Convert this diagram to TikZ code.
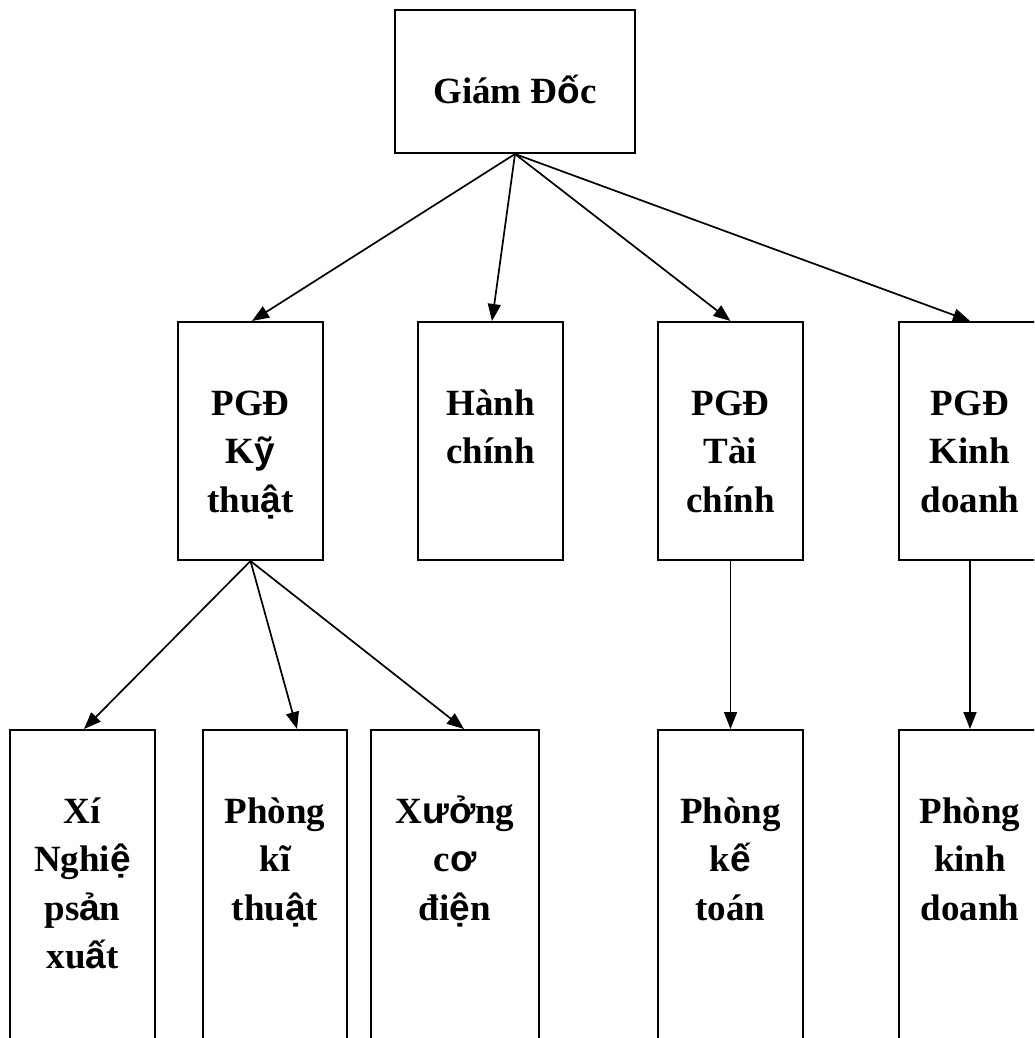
\documentclass[tikz,border=0pt]{standalone}
\usepackage{fontspec}
\setmainfont{Liberation Serif}
\newfontfamily\altsans{Liberation Sans}
\usetikzlibrary{arrows.meta}
% glyphs set in the sans fallback face
\newcommand\sg[1]{{\altsans #1}}
% centred, top-aligned block of lines
\newcommand\lines[1]{\parbox[t]{220pt}{\centering #1}}

\begin{document}
\begin{tikzpicture}[x=1pt,y=-1pt,
  box/.style={draw, line width=2pt, rectangle, inner sep=0pt},
  txt/.style={anchor=base, yshift=-94pt, inner sep=0pt,
    font=\bfseries\fontsize{37}{48.5}\selectfont},
  arr/.style={line width=1.7pt, -{Triangle[length=17pt,width=13pt]}}]

\useasboundingbox (0,0) rectangle (1034,1038);
\clip (0,0) rectangle (1034,1038);

% top
\node[box, minimum width=240pt, minimum height=143pt] (gd) at (515,81.5) {};

% second row
\node[box, minimum width=145pt, minimum height=238pt] (kt) at (250.5,441) {};
\node[box, minimum width=145pt, minimum height=238pt] (hc) at (490.5,441) {};
\node[box, minimum width=145pt, minimum height=238pt] (tc) at (730.5,441) {};
\node[box, minimum width=142pt, minimum height=238pt] (kd) at (970,441) {};

% third row
\node[box, minimum width=145pt, minimum height=340pt] (xn)  at (82.5,900) {};
\node[box, minimum width=144pt, minimum height=340pt] (pkt) at (275,900) {};
\node[box, minimum width=168pt, minimum height=340pt] (xcd) at (455,900) {};
\node[box, minimum width=145pt, minimum height=340pt] (pkt2) at (730.5,900) {};
\node[box, minimum width=142pt, minimum height=340pt] (pkd) at (970,900) {};

% labels
\node[txt] (gd-t)  at (gd.north)  {\lines{Giám Đ\sg{ố}c}};
\node[txt] (kt-t)  at (kt.north)  {\lines{PGĐ\\K\sg{ỹ}\\thu\sg{ậ}t}};
\node[txt] (hc-t)  at (hc.north)  {\lines{Hành\\chính}};
\node[txt] (tc-t)  at (tc.north)  {\lines{PGĐ\\Tài\\chính}};
\node[txt] (kd-t)  at (kd.north)  {\lines{PGĐ\\Kinh\\doanh}};
\node[txt] (xn-t)  at (xn.north)  {\lines{Xí\\Nghi\sg{ệ}\\ps\sg{ả}n\\xu\sg{ấ}t}};
\node[txt] (pkt-t) at (pkt.north) {\lines{Phòng\\kĩ\\thu\sg{ậ}t}};
\node[txt] (xcd-t) at (xcd.north) {\lines{X\sg{ưở}ng\\c\sg{ơ}\\đi\sg{ệ}n}};
\node[txt] (pkt2-t) at (pkt2.north) {\lines{Phòng\\k\sg{ế}\\toán}};
\node[txt] (pkd-t) at (pkd.north) {\lines{Phòng\\kinh\\doanh}};

% connectors
\draw[arr] (gd.south) -- ([xshift=1.5pt]kt.north);
\draw[arr] (gd.south) -- ([xshift=1.5pt]hc.north);
\draw[arr] (gd.south) -- (tc.north);
\draw[arr] (gd.south) -- (kd.north);

\draw[arr] (kt.south) -- ([xshift=75pt]xn.north west);
\draw[arr] (kt.south) -- ([xshift=95pt]pkt.north west);
\draw[arr] (kt.south) -- ([xshift=94pt]xcd.north west);

\draw[arr] (tc.south) -- (pkt2.north);
\draw[arr] (kd.south) -- (pkd.north);
\end{tikzpicture}
\end{document}
